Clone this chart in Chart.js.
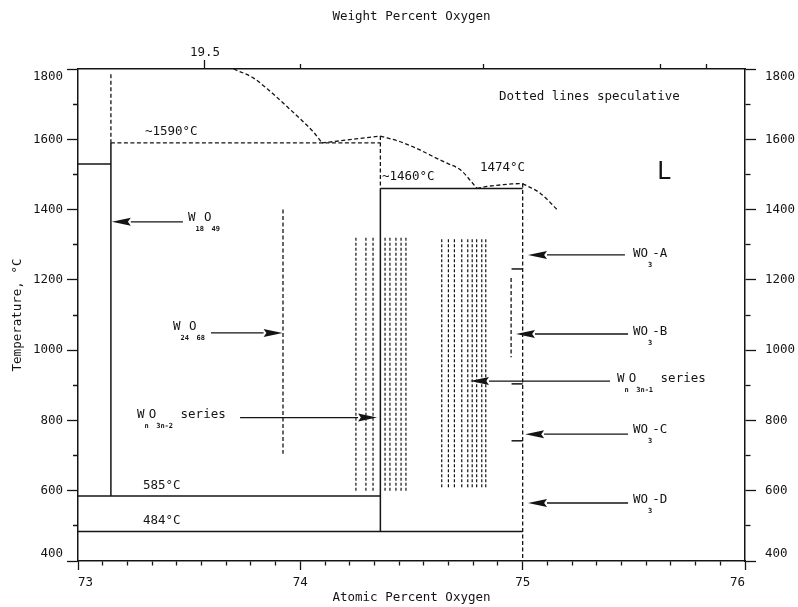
<!DOCTYPE html>
<html>
<head>
<meta charset="utf-8">
<title>W-O phase diagram</title>
<script src="https://cdn.jsdelivr.net/npm/chart.js@4.4.1/dist/chart.umd.min.js"></script>
<style>
  html, body { margin: 0; padding: 0; background: #fff; }
  #wrap { width: 798px; height: 607px; }
</style>
</head>
<body>
<div id="wrap"><canvas id="phaseChart" width="798" height="607"></canvas></div>
<script>
// Axis ranges and tick values
const atomicMajorTicks = [73, 74, 75, 76];
const tempMajorTicks = [400, 600, 800, 1000, 1200, 1400, 1600, 1800];
const tempMinorTicks = [500, 700, 900, 1100, 1300, 1500, 1700];
// weight percent ticks on the top axis, placed at their atomic percent equivalents
const weightTickAtomic = [73.571, 74.0, 74.822, 75.622, 75.825];
const weightTickLabels = ['19.5', '', '', '', ''];

// Phase boundaries as [x1, T1, x2, T2]
const solidBoundaries = [
    [73, 1530, 73.148, 1530],
    [73.148, 1590, 73.148, 585],
    [73, 585, 74.36, 585],
    [73, 484, 75, 484],
    [74.36, 1460, 74.36, 484],
    [74.36, 1460, 75, 1460],
    [74.95, 1231, 75, 1231],
    [74.95, 904, 75, 904],
    [74.95, 742, 75, 742]
];
const dottedBoundaries = [
    [73.148, 1785, 73.148, 1590],
    [73.148, 1590, 74.36, 1590],
    [74.36, 1609, 74.36, 1460],
    [75, 1474, 75, 400],
    [73.922, 1400, 73.922, 705],
    [74.948, 1205, 74.948, 980]
];

// Liquidus, with its kinks (minima and maxima) listed by index
const liquidusX = [73.70, 73.79, 73.865, 73.94, 74.013, 74.06, 74.097, 74.13, 74.25, 74.36,
                   74.45, 74.53, 74.60, 74.66, 74.72, 74.795, 74.84, 74.90, 74.95, 75.0, 75.08, 75.155];
const liquidusT = [1800, 1774, 1736, 1693, 1650, 1620, 1590, 1592, 1601, 1609,
                   1593, 1572, 1550, 1532, 1513, 1460, 1466, 1470, 1473, 1474, 1446, 1400];
const liquidusKinks = [0, 6, 9, 15, 19, 21];

// Homologous series (vertical lines)
const seriesLowX = [74.25, 74.295, 74.327, 74.381, 74.403, 74.43, 74.453, 74.475];
const seriesLowT = [600, 1320];
const seriesHighX = [74.636, 74.666, 74.693, 74.726, 74.753, 74.773, 74.793, 74.816, 74.834];
const seriesHighT = [610, 1320];

// Arrows: tail x, tip x, temperature
const arrowTailX = [73.472, 73.598, 73.729, 75.46, 75.474, 75.393, 75.474, 75.474];
const arrowTipX = [73.152, 73.92, 74.345, 75.024, 74.97, 74.763, 75.011, 75.024];
const arrowT = [1365, 1049, 808, 1271, 1046, 912, 761, 565];

// Phase labels, pieces starting with '_' are subscripts
const phaseLabelText = [
    ['W', '_18', 'O', '_49'],
    ['W', '_24', 'O', '_68'],
    ['W', '_n', 'O', '_3n-2', ' series'],
    ['WO', '_3', '-A'],
    ['WO', '_3', '-B'],
    ['W', '_n', 'O', '_3n-1', ' series'],
    ['WO', '_3', '-C'],
    ['WO', '_3', '-D']
];
const phaseLabelX = [73.495, 73.427, 73.265, 75.496, 75.496, 75.424, 75.496, 75.496];
const phaseLabelT = [1376, 1066, 815, 1274, 1052, 918, 773, 574];

// Temperature notes and other text
const noteText = ['~1590°C', '~1460°C', '1474°C', '585°C', '484°C', 'Dotted lines speculative'];
const noteX = [73.301, 74.367, 74.808, 73.292, 73.292, 74.894];
const noteT = [1621, 1493, 1518, 613, 514, 1720];
const liquidLabel = { text: 'L', x: 75.604, t: 1504 };

const INK = '#141414';
const FONT = "'DejaVu Sans Mono', 'Liberation Mono', monospace";

// minor atomic ticks every 1/9 unit
const atomicTicks = [];
for (let k = 0; k <= 27; k++) {
    atomicTicks.push(Math.round((73 + k / 9) * 1e6) / 1e6);
}
const tempTicks = [...tempMajorTicks, ...tempMinorTicks].sort((a, b) => a - b);

const isWhole = v => Math.abs(v - Math.round(v)) < 1e-6;

// shorten minor ticks with a dash; outerFirst when the tick is drawn from the outside in
function minorTickDash(isMajor, tickLen, minorLen, outerFirst) {
    return (ctx) => {
        if (!ctx.tick || isMajor(ctx.tick.value, ctx.index)) return [];
        return outerFirst ? [0, tickLen - minorLen, minorLen + 2, 100] : [minorLen, 100];
    };
}

function segment(s, dash, width) {
    return {
        data: [{ x: s[0], y: s[1] }, { x: s[2], y: s[3] }],
        showLine: true,
        borderColor: INK,
        borderWidth: width,
        borderDash: dash,
        pointRadius: 0,
        fill: false
    };
}

const datasets = [];
solidBoundaries.forEach(s => datasets.push(segment(s, [], 1.5)));
dottedBoundaries.forEach(s => datasets.push(segment(s, [4, 2.5], 1.3)));
seriesLowX.forEach(x => datasets.push(segment([x, seriesLowT[0], x, seriesLowT[1]], [3, 2], 1.2)));
seriesHighX.forEach(x => datasets.push(segment([x, seriesHighT[0], x, seriesHighT[1]], [3, 2], 1.2)));

// liquidus drawn piece by piece so the kinks stay sharp
for (let k = 0; k < liquidusKinks.length - 1; k++) {
    const from = liquidusKinks[k], to = liquidusKinks[k + 1];
    const pts = [];
    for (let i = from; i <= to; i++) pts.push({ x: liquidusX[i], y: liquidusT[i] });
    datasets.push({
        data: pts,
        showLine: true,
        cubicInterpolationMode: 'monotone',
        borderColor: INK,
        borderWidth: 1.3,
        borderDash: [4, 2.5],
        pointRadius: 0,
        fill: false
    });
}

function tempAxis(position) {
    const left = position === 'left';
    return {
        type: 'linear',
        position: position,
        min: 400,
        max: 1800,
        afterBuildTicks: s => { s.ticks = tempTicks.map(v => ({ value: v })); },
        afterFit: s => { s.width = left ? 78 : 53; },
        ticks: {
            autoSkip: false,
            padding: left ? 4 : 9,
            color: INK,
            font: { family: FONT, size: 12.5 },
            // end labels sit inside the axis span
            callback: v => {
                if (v % 200 !== 0) return '';
                if (v === 1800) return ['', '1800'];
                if (v === 400) return ['400', ''];
                return String(v);
            }
        },
        grid: {
            drawOnChartArea: false,
            tickLength: 11,
            tickColor: INK,
            tickWidth: 1.3,
            tickBorderDash: minorTickDash(v => v % 200 === 0, 11, 5, left)
        },
        border: { color: INK, width: 1.5 },
        title: {
            display: left,
            text: 'Temperature, °C',
            color: INK,
            font: { family: FONT, size: 12.5 },
            padding: { top: 10 }
        }
    };
}

// Labels, arrows and notes drawn on top of the datasets
const phaseAnnotations = {
    id: 'phaseAnnotations',
    afterDatasetsDraw(chart) {
        const { ctx, scales: { x, y } } = chart;
        ctx.save();
        ctx.fillStyle = INK;
        ctx.strokeStyle = INK;

        arrowT.forEach((t, i) => {
            const py = y.getPixelForValue(t);
            const x0 = x.getPixelForValue(arrowTailX[i]);
            const x1 = x.getPixelForValue(arrowTipX[i]);
            const dir = Math.sign(x1 - x0);
            const headLen = 19, headHalf = 4;
            ctx.lineWidth = 1.3;
            ctx.beginPath();
            ctx.moveTo(x0, py);
            ctx.lineTo(x1 - dir * headLen, py);
            ctx.stroke();
            ctx.beginPath();
            ctx.moveTo(x1, py);
            ctx.lineTo(x1 - dir * headLen, py - headHalf);
            ctx.lineTo(x1 - dir * headLen * 0.85, py);
            ctx.lineTo(x1 - dir * headLen, py + headHalf);
            ctx.closePath();
            ctx.fill();
        });

        ctx.textAlign = 'left';
        ctx.textBaseline = 'middle';
        phaseLabelText.forEach((parts, i) => {
            let px = x.getPixelForValue(phaseLabelX[i]);
            const py = y.getPixelForValue(phaseLabelT[i]);
            parts.forEach(p => {
                if (p.startsWith('_')) {
                    ctx.font = 'bold 7px ' + FONT;
                    ctx.fillText(p.slice(1), px, py + 11);
                    px += ctx.measureText(p.slice(1)).width;
                } else {
                    ctx.font = '12.5px ' + FONT;
                    ctx.fillText(p, px, py);
                    px += ctx.measureText(p).width;
                }
            });
        });

        ctx.font = '12.5px ' + FONT;
        noteText.forEach((txt, i) => {
            ctx.fillText(txt, x.getPixelForValue(noteX[i]), y.getPixelForValue(noteT[i]));
        });

        ctx.font = '24px ' + FONT;
        ctx.fillText(liquidLabel.text, x.getPixelForValue(liquidLabel.x), y.getPixelForValue(liquidLabel.t));
        ctx.restore();
    }
};

new Chart(document.getElementById('phaseChart'), {
    type: 'scatter',
    data: { datasets: datasets },
    options: {
        responsive: false,
        animation: false,
        devicePixelRatio: 1,
        layout: { padding: 0 },
        plugins: {
            legend: { display: false },
            tooltip: { enabled: false }
        },
        scales: {
            x: {
                type: 'linear',
                position: 'bottom',
                min: 73,
                max: 76,
                afterBuildTicks: s => { s.ticks = atomicTicks.map(v => ({ value: v })); },
                afterFit: s => { s.height = 46; },
                ticks: {
                    autoSkip: false,
                    maxRotation: 0,
                    align: 'inner',
                    padding: 5,
                    color: INK,
                    font: { family: FONT, size: 12.5 },
                    callback: v => isWhole(v) ? String(Math.round(v)) : ''
                },
                grid: {
                    drawOnChartArea: false,
                    tickLength: 9,
                    tickColor: INK,
                    tickWidth: 1.3,
                    tickBorderDash: minorTickDash(v => isWhole(v), 9, 4, false)
                },
                border: { color: INK, width: 1.5 },
                title: {
                    display: true,
                    text: 'Atomic Percent Oxygen',
                    color: INK,
                    font: { family: FONT, size: 12.5 },
                    padding: { bottom: 2 }
                }
            },
            xTop: {
                type: 'linear',
                position: 'top',
                min: 73,
                max: 76,
                afterBuildTicks: s => { s.ticks = weightTickAtomic.map(v => ({ value: v })); },
                afterFit: s => { s.height = 69; },
                ticks: {
                    autoSkip: false,
                    maxRotation: 0,
                    padding: 0,
                    color: INK,
                    font: { family: FONT, size: 12.5 },
                    callback: (v, i) => weightTickLabels[i]
                },
                grid: {
                    drawOnChartArea: false,
                    tickLength: 9,
                    tickColor: INK,
                    tickWidth: 1.3,
                    tickBorderDash: minorTickDash((v, i) => weightTickLabels[i] !== '', 9, 5, true)
                },
                border: { color: INK, width: 1.5 },
                title: {
                    display: true,
                    text: 'Weight Percent Oxygen',
                    color: INK,
                    font: { family: FONT, size: 12.5 },
                    padding: { top: 9 }
                }
            },
            y: tempAxis('left'),
            yRight: tempAxis('right')
        }
    },
    plugins: [phaseAnnotations]
});
</script>
</body>
</html>
